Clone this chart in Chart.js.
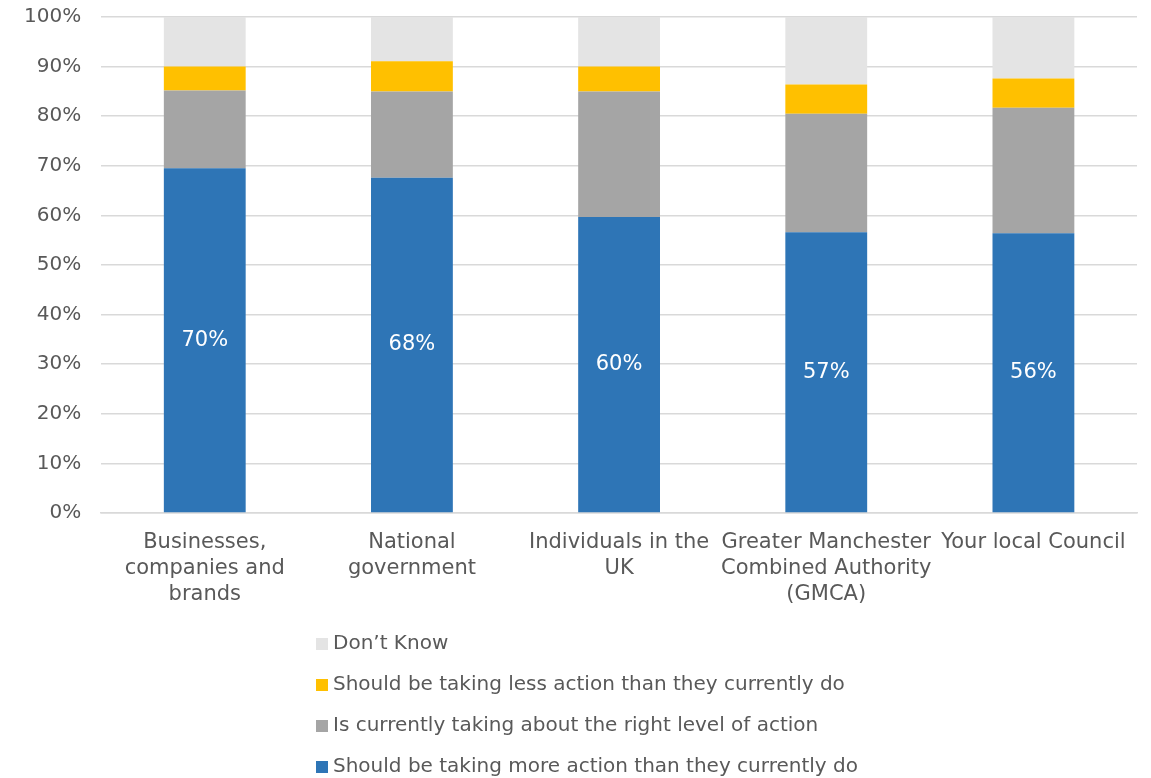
<!DOCTYPE html>
<html>
<head>
<meta charset="utf-8">
<script src="https://cdn.jsdelivr.net/npm/chart.js@4/dist/chart.umd.min.js"></script>
<style>
  html, body { margin: 0; padding: 0; background: #ffffff; }
  #wrap { width: 1151px; height: 778px; }
</style>
</head>
<body>
<div id="wrap"><canvas id="c" width="1151" height="778"></canvas></div>
<script>
const categories = [
  ["Businesses,", "companies and", "brands"],
  ["National", "government"],
  ["Individuals in the", "UK"],
  ["Greater Manchester", "Combined Authority", "(GMCA)"],
  ["Your local Council"]
];
const moreAction  = [69.5, 67.6, 59.7, 56.6, 56.4];
const rightLevel  = [15.7, 17.4, 25.3, 23.9, 25.3];
const lessAction  = [4.8, 6.1, 5.0, 5.9, 5.9];
const dontKnow    = [10.0, 8.9, 10.0, 13.6, 12.4];
const seriesNames = [
  "Should be taking more action than they currently do",
  "Is currently taking about the right level of action",
  "Should be taking less action than they currently do",
  "Don\u2019t Know"
];
const seriesColors = ["#2E75B6", "#A5A5A5", "#FFC000", "#E4E4E4"];
const yTicks = [0, 10, 20, 30, 40, 50, 60, 70, 80, 90, 100];

const FONT = "'DejaVu Sans', 'Liberation Sans', Arial, sans-serif";
const TEXT = "#595959";

const valueLabelPlugin = {
  id: 'valueLabels',
  afterDatasetsDraw(chart) {
    const ctx = chart.ctx;
    const meta = chart.getDatasetMeta(0);
    ctx.save();
    ctx.fillStyle = '#ffffff';
    ctx.font = "21px " + FONT;
    ctx.textAlign = 'center';
    ctx.textBaseline = 'middle';
    meta.data.forEach((bar, i) => {
      const v = chart.data.datasets[0].data[i];
      ctx.fillText(Math.round(v) + '%', bar.x, (bar.y + bar.base) / 2);
    });
    ctx.restore();
  }
};

const legendPlugin = {
  id: 'vertLegend',
  afterDraw(chart) {
    const ctx = chart.ctx;
    const ds = chart.data.datasets.slice().reverse();
    const x0 = 316, yStart = 644, step = 41, box = 12;
    ctx.save();
    ctx.font = "20px " + FONT;
    ctx.textBaseline = 'middle';
    ctx.textAlign = 'left';
    ds.forEach((d, i) => {
      const y = yStart + i * step;
      ctx.fillStyle = d.backgroundColor;
      ctx.fillRect(x0, y - box / 2, box, box);
      ctx.fillStyle = TEXT;
      ctx.fillText(d.label, x0 + box + 5, y);
    });
    ctx.restore();
  }
};

new Chart(document.getElementById('c'), {
  type: 'bar',
  data: {
    labels: categories,
    datasets: [moreAction, rightLevel, lessAction, dontKnow].map((arr, i) => ({
      label: seriesNames[i],
      data: arr,
      backgroundColor: seriesColors[i],
      borderWidth: 0,
      categoryPercentage: 1.0,
      barPercentage: 0.395
    }))
  },
  options: {
    responsive: false,
    animation: false,
    layout: { padding: { top: 17, right: 14, bottom: 153, left: 4 } },
    plugins: {
      legend: { display: false },
      tooltip: { enabled: false }
    },
    scales: {
      x: {
        stacked: true,
        grid: { display: false, drawTicks: false },
        border: { display: true, color: '#d9d9d9', width: 1.5 },
        ticks: {
          color: TEXT,
          font: { family: FONT, size: 21, lineHeight: 26 / 21 },
          padding: 17,
          maxRotation: 0,
          autoSkip: false
        }
      },
      y: {
        stacked: true,
        min: 0,
        max: 100,
        afterBuildTicks(scale) { scale.ticks = yTicks.map(v => ({ value: v })); },
        afterFit(scale) { scale.paddingTop = 0; },
        grid: { color: '#d9d9d9', lineWidth: 1.5, drawTicks: false },
        border: { display: false },
        ticks: {
          color: TEXT,
          font: { family: FONT, size: 20 },
          padding: 20,
          callback: v => v + '%'
        }
      }
    }
  },
  plugins: [valueLabelPlugin, legendPlugin]
});
</script>
</body>
</html>
